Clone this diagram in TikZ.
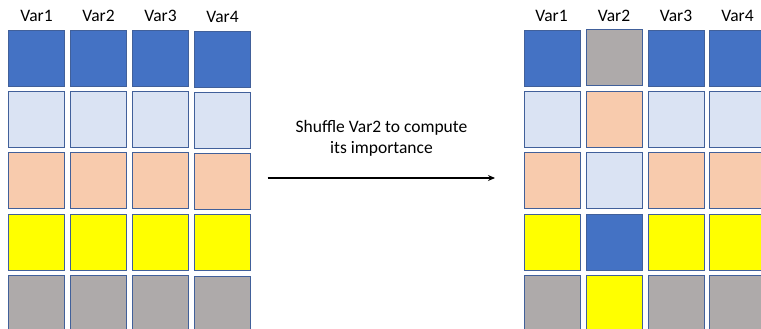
\documentclass[tikz,border=0pt]{standalone}
\usepackage{fontspec}
\setmainfont{Carlito}
\usetikzlibrary{arrows.meta,positioning}
\definecolor{dblue}{HTML}{4472C4}
\definecolor{lblue}{HTML}{DAE3F3}
\definecolor{peach}{HTML}{F8CBAD}
\definecolor{yell}{HTML}{FFFF00}
\definecolor{grey}{HTML}{AEAAAA}
\definecolor{edge}{HTML}{41609A}
\tikzset{
  cell/.style={draw=edge,line width=0.9pt,minimum size=56pt,inner sep=0pt},
  head/.style={font=\fontsize{17.5}{21}\selectfont,inner sep=0pt},
}
\begin{document}
\begin{tikzpicture}[x=1pt,y=-1pt]
		\useasboundingbox (0,0) rectangle (761,329);
		\clip (0,0) rectangle (761,329);
		% table before shuffling
		\node[head] (h1) at (36.5,16) {Var1};
		\node[head] (h2) at (98.5,16) {Var2};
		\node[head] (h3) at (160.5,16) {Var3};
		\node[head] (h4) at (222.5,17) {Var4};
		\node[cell,fill=dblue] (11) at (36.5,58.5) {};
		\node[cell,fill=dblue] (12) at (98.5,58.5) {};
		\node[cell,fill=dblue] (13) at (160.5,58.5) {};
		\node[cell,fill=dblue] (14) at (222.5,59) {};
		\node[cell,fill=lblue] (21) at (36.5,119.7) {};
		\node[cell,fill=lblue] (22) at (98.5,119.7) {};
		\node[cell,fill=lblue] (23) at (160.5,119.7) {};
		\node[cell,fill=lblue] (24) at (222.5,120.2) {};
		\node[cell,fill=peach] (31) at (36.5,180.9) {};
		\node[cell,fill=peach] (32) at (98.5,180.9) {};
		\node[cell,fill=peach] (33) at (160.5,180.9) {};
		\node[cell,fill=peach] (34) at (222.5,181.4) {};
		\node[cell,fill=yell] (41) at (36.5,242.1) {};
		\node[cell,fill=yell] (42) at (98.5,242.1) {};
		\node[cell,fill=yell] (43) at (160.5,242.1) {};
		\node[cell,fill=yell] (44) at (222.5,242.6) {};
		\node[cell,fill=grey] (51) at (36.5,303.3) {};
		\node[cell,fill=grey] (52) at (98.5,303.3) {};
		\node[cell,fill=grey] (53) at (160.5,303.3) {};
		\node[cell,fill=grey] (54) at (222.5,304) {};
		% table after shuffling Var2
		\node[head] (k1) at (551.5,16) {Var1};
		\node[head] (k2) at (614,16) {Var2};
		\node[head] (k3) at (676,16) {Var3};
		\node[head] (k4) at (737.5,16) {Var4};
		\node[cell,fill=dblue] (s11) at (552,58.5) {};
		\node[cell,fill=grey] (s12) at (614.5,57.5) {};
		\node[cell,fill=dblue] (s13) at (676,58.5) {};
		\node[cell,fill=dblue] (s14) at (737.5,58.5) {};
		\node[cell,fill=lblue] (s21) at (552,119.7) {};
		\node[cell,fill=peach] (s22) at (614.5,119.7) {};
		\node[cell,fill=lblue] (s23) at (676,119.7) {};
		\node[cell,fill=lblue] (s24) at (737.5,119.7) {};
		\node[cell,fill=peach] (s31) at (552,180.9) {};
		\node[cell,fill=lblue] (s32) at (614.5,180.9) {};
		\node[cell,fill=peach] (s33) at (676,180.9) {};
		\node[cell,fill=peach] (s34) at (737.5,180.9) {};
		\node[cell,fill=yell] (s41) at (552,242.1) {};
		\node[cell,fill=dblue] (s42) at (614.5,242.1) {};
		\node[cell,fill=yell] (s43) at (676,242.1) {};
		\node[cell,fill=yell] (s44) at (737.5,242.1) {};
		\node[cell,fill=grey] (s51) at (552,303.3) {};
		\node[cell,fill=yell] (s52) at (614.5,303.3) {};
		\node[cell,fill=grey] (s53) at (676,303.3) {};
		\node[cell,fill=grey] (s54) at (737.5,303.3) {};
		% arrow between the tables
		\node[head,align=center] (txt) at (381.5,138.5) {Shuffle Var2 to compute\\its importance};
		\coordinate (a0) at (267.5,178);
		\coordinate (a1) at (495,178);
		\draw[-{Stealth[length=7pt,width=6pt]},line width=1.4pt] (a0) to (a1);
	\end{tikzpicture}
\end{document}
